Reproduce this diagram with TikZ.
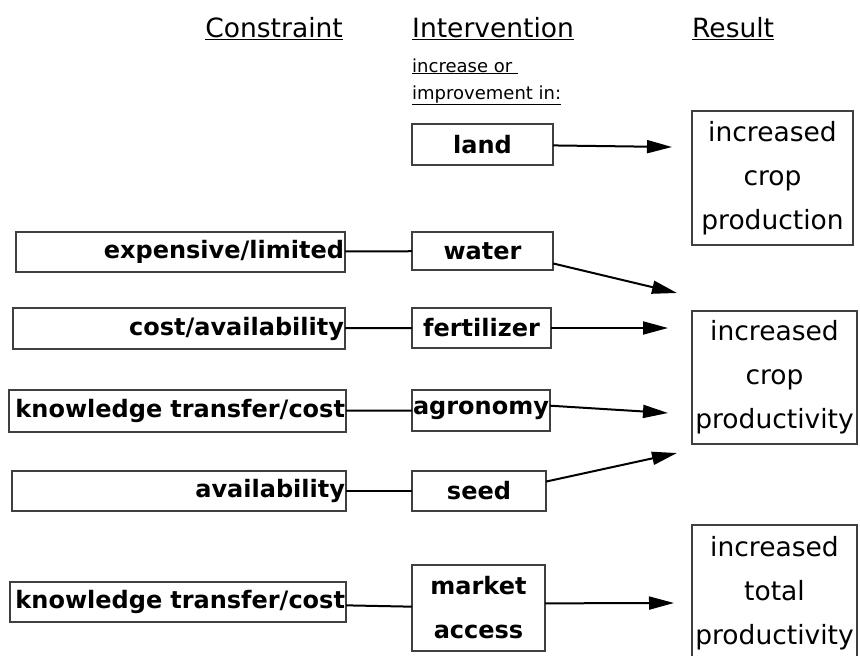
\documentclass[tikz,border=0pt]{standalone}
\usepackage{fontspec}
\setmainfont{DejaVu Sans}
\usepackage{tikz}
\usetikzlibrary{arrows.meta, positioning}

\begin{document}
\begin{tikzpicture}[x=1pt, y=-1pt,
    box/.style={draw=black!75, line width=1.2pt, inner sep=0pt, outer sep=0pt, anchor=north west},
    con/.style={box, inner xsep=1pt, font=\bfseries\fontsize{24}{28}\selectfont, align=right, minimum height=40pt},
    itv/.style={box, inner xsep=1pt, font=\bfseries\fontsize{24}{44}\selectfont, align=center, minimum height=40pt},
    res/.style={box, font=\fontsize{26.5}{44}\selectfont, align=center},
    head/.style={anchor=base west, inner sep=0pt, font=\fontsize{26.5}{30}\selectfont},
    sub/.style={anchor=base west, inner sep=0pt, font=\fontsize{18}{20}\selectfont},
    link/.style={line width=2pt},
    push/.style={line width=2pt, -{Triangle[length=25pt, width=13pt]}}]
    \useasboundingbox (0,0) rectangle (860,656);
    \node[head, anchor=base east] (hcon) at (343,37) {\underline{Constraint}};
    \node[head] (hitv) at (412,37) {\underline{Intervention}};
    \node[head] (hres) at (692,37) {\underline{Result}};
    \node[sub] (sub1) at (412,72) {\underline{increase or\ }};
    \node[sub] (sub2) at (412,99) {\underline{improvement in:}};
    \node[con, text width=327pt] (exp) at (16,232) {expensive/limited};
    \node[con, text width=330pt, minimum height=41pt] (cost) at (13,308) {cost/availability};
    \node[con, text width=335pt, minimum height=42pt] (know) at (9,390) {knowledge transfer/cost};
    \node[con, text width=332pt] (avail) at (12,471) {availability};
    \node[con, text width=334pt] (know2) at (10,582) {knowledge transfer/cost};
    \node[itv, minimum width=141pt, minimum height=41pt] (land) at (412,124) {land};
    \node[itv, minimum width=141pt, minimum height=38pt] (water) at (412,232) {water};
    \node[itv, minimum width=139pt] (fert) at (412,308) {fertilizer};
    \node[itv, minimum width=137pt, minimum height=41pt] (agro) at (412,390) {agronomy};
    \node[itv, minimum width=134pt] (seed) at (412,471) {seed};
    \node[itv, minimum width=133pt, minimum height=86pt] (market) at (412,565) {market\\access};
    \node[res, minimum width=161pt, minimum height=134pt] (prod) at (692,111) {increased\\crop\\production};
    \node[res, minimum width=165pt, minimum height=133pt] (pvty) at (692,311) {increased\\crop\\productivity};
    \node[res, minimum width=165pt, minimum height=136pt] (total) at (692,525) {increased\\total\\productivity};
    \coordinate (e1) at (672,147);
    \coordinate (e2) at (677,293);
    \coordinate (e3) at (668,328);
    \coordinate (e4) at (668,413);
    \coordinate (e5) at (677,453);
    \coordinate (e6) at (674,603);
    \draw[link] (exp) -- (water);
    \draw[link] (cost) -- (fert);
    \draw[link] (know) -- (agro);
    \draw[link] (avail) -- (seed);
    \draw[link] (know2) -- (market);
    \draw[push] (land) -- (e1);
    \draw[push] (water.-10) -- (e2);
    \draw[push] (fert) -- (e3);
    \draw[push] (agro.4) -- (e4);
    \draw[push] (seed.8) -- (e5);
    \draw[push] (market.4) -- (e6);
\end{tikzpicture}
\end{document}
